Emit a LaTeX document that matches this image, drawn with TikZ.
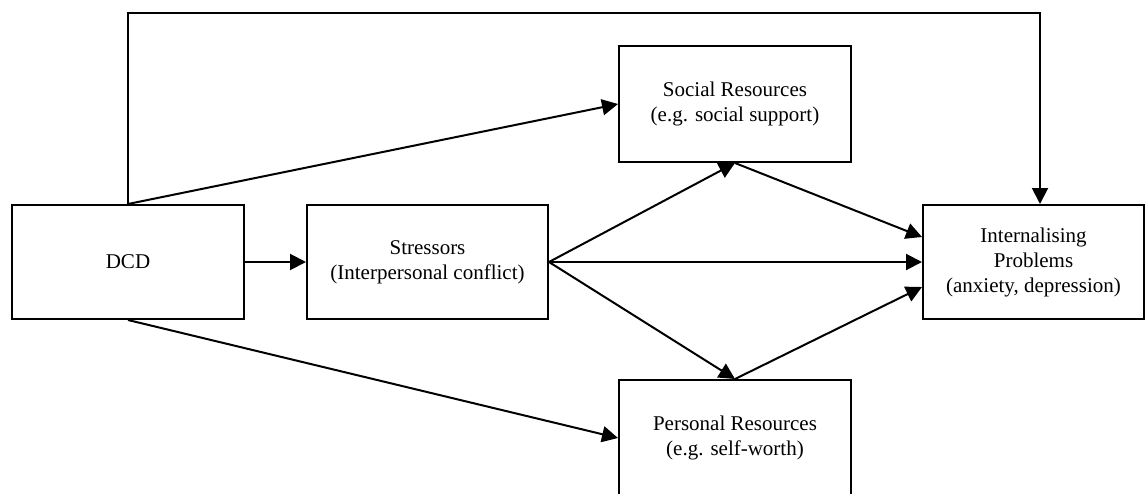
\documentclass[tikz,border=0pt]{standalone}
\usepackage{fontspec}
\setmainfont{Liberation Serif}
\usetikzlibrary{arrows.meta}
\begin{document}
\begin{tikzpicture}[x=1pt,y=-1pt,
  box/.style={draw, line width=2pt, align=center, inner sep=0pt,
    font=\fontsize{21}{25}\selectfont},
  arr/.style={line width=2pt, line join=miter, -{Triangle[length=16pt,width=16pt]}}]
\useasboundingbox (0,0) rectangle (1146,493);
\node[box, minimum width=232pt, minimum height=114pt] (dcd) at (128,262) {DCD};
\node[box, minimum width=241pt, minimum height=114pt] (str) at (427.5,262) {Stressors\\(Interpersonal conflict)};
\node[box, minimum width=232pt, minimum height=116pt] (soc) at (735,104) {Social Resources\\(e.g. social support)};
\node[box, minimum width=232pt, minimum height=116pt] (per) at (735,438) {Personal Resources\\(e.g. self-worth)};
\node[box, minimum width=221pt, minimum height=114pt] (int) at (1033.5,262) {Internalising\\Problems\\(anxiety, depression)};
\draw[arr] (dcd.north) -- ++(0,-191) -| ([xshift=6.5pt]int.north);
\draw[arr] (dcd.north) -- (soc.west);
\draw[arr] (dcd.south) -- (per.west);
\draw[arr] (dcd.east) -- (str.west);
\draw[arr] (str.east) -- (soc.south);
\draw[arr] (str.east) -- (int.west);
\draw[arr] (str.east) -- (per.north);
\draw[arr] (soc.south) -- ([yshift=25pt]int.west);
\draw[arr] (per.north) -- ([yshift=-25pt]int.west);
\end{tikzpicture}
\end{document}
